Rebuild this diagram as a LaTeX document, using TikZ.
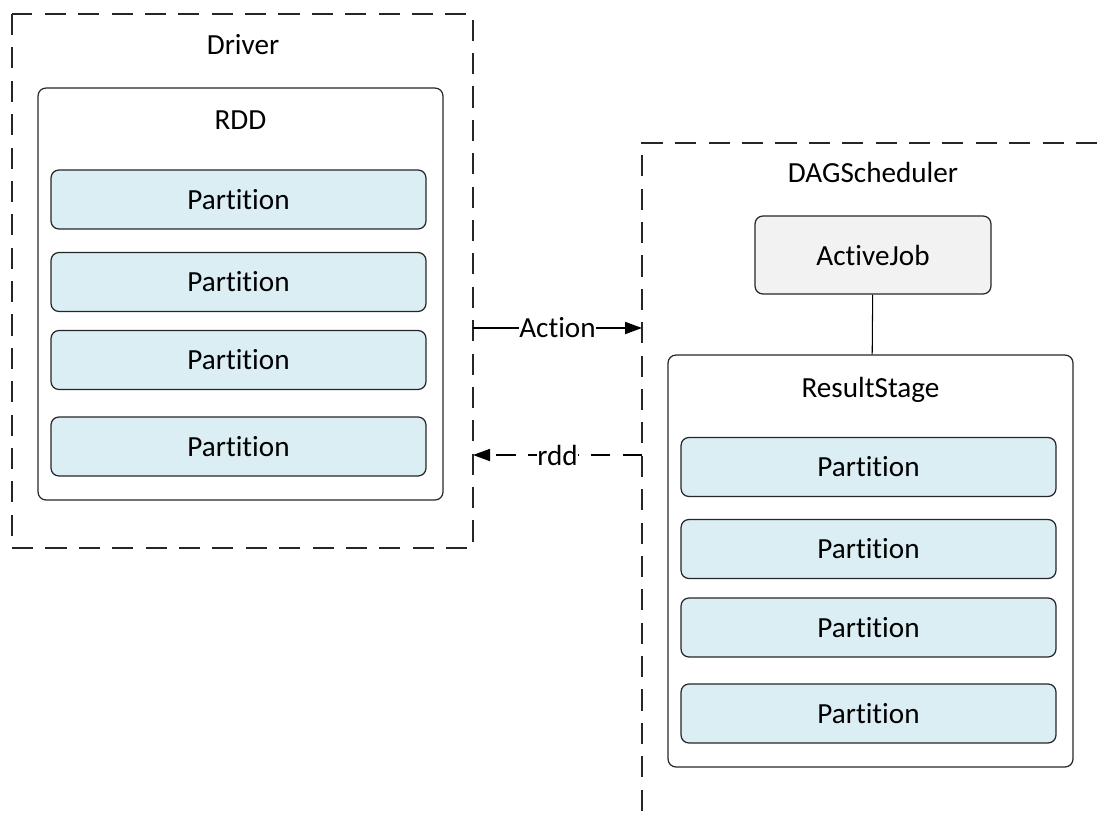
\documentclass[tikz,border=0pt]{standalone}
\usepackage{fontspec}
\setmainfont{Carlito}[RawFeature = {-liga;-clig;-calt;-dlig}]
\usetikzlibrary{arrows.meta,positioning}
\definecolor{partblue}{HTML}{DAEEF3}
\definecolor{jobgray}{HTML}{F2F2F2}
\begin{document}
\begin{tikzpicture}[x = 0.02cm, y = -0.02cm, line width = 0.7pt,
  every node/.style = {font = \fontsize{16.6}{20}\selectfont},
  dashbox/.style = {draw = black!85, dash pattern = on 12pt off 7pt},
  holder/.style = {draw = black!85, rounded corners = 4.5pt, minimum width = 8.1cm, minimum height = 8.24cm, inner sep = 0pt},
  part/.style = {draw = black!85, fill = partblue, rounded corners = 4.5pt, minimum width = 7.5cm, minimum height = 1.18cm, inner sep = 0pt},
  jobbox/.style = {draw = black!85, fill = jobgray, rounded corners = 4.5pt, minimum width = 4.72cm, minimum height = 1.56cm, inner sep = 0pt},
  tag/.style = {fill = white, inner sep = 0.3pt}]
\useasboundingbox (0,0) rectangle (1097,814);
% driver side
\draw[dashbox] (12,14) rectangle (473,548);
\node (drvlabel) at (243,45) {Driver};
\node[holder] (rdd) at (240.5,294) {};
\node (rddlabel) at (240.5,120) {RDD};
\foreach \y [count = \i] in {199.5, 282, 360, 446.5}
  \node[part] (lp\i) at (238.5,\y) {Partition};
% scheduler side
\draw[dashbox] (1097,143) -- (642,143) -- (642,814);
\node (schlabel) at (873,172) {DAGScheduler};
\node[jobbox] (job) at (873,255) {ActiveJob};
\node[holder] (stage) at (870.5,561) {};
\node (stagelabel) at (870.5,390) {ResultStage};
\foreach \y [count = \i] in {467, 549, 627.5, 713.5}
  \node[part] (rp\i) at (868.5,\y) {Partition};
\draw[line width = 0.6pt] (job) -- (stage);
% messages
\coordinate (actL) at (473,328);
\coordinate (actR) at (642,328);
\coordinate (rddL) at (473,455);
\coordinate (rddR) at (642,455);
\draw[line width = 1.1pt, -{Triangle[length = 0.34cm, width = 0.24cm]}] (actL) -- node[tag] {Action} (actR);
\draw[line width = 1pt, dash pattern = on 11pt off 7pt, -{Triangle[length = 0.34cm, width = 0.24cm]}] (rddR) -- node[tag] {rdd} (rddL);
\end{tikzpicture}
\end{document}
